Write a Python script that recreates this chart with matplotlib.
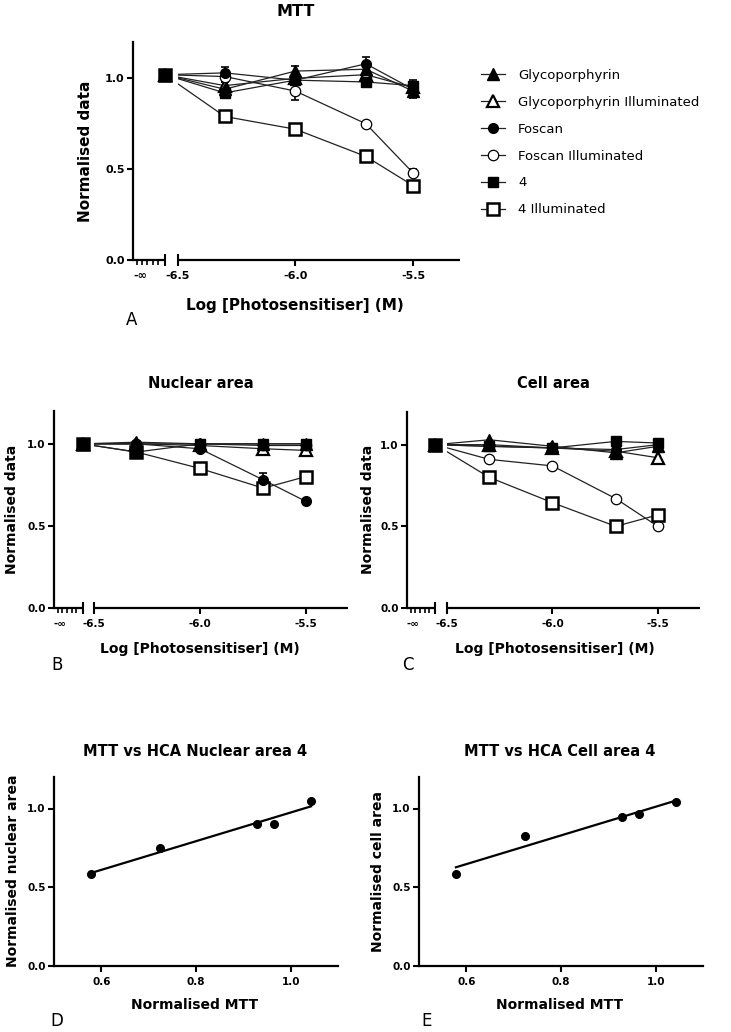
import numpy as np
import matplotlib
matplotlib.use("Agg")
import matplotlib.pyplot as plt
from matplotlib.lines import Line2D

plt.rcParams['font.family'] = ['DejaVu Sans']

W, H = 731, 1032

# ---------------- data ----------------
log_conc = [-6.555, -6.3, -6.0, -5.7, -5.5]   # first value = control (-inf) position on the broken axis
series_names = ["Glycoporphyrin", "Glycoporphyrin Illuminated", "Foscan",
                "Foscan Illuminated", "4", "4 Illuminated"]

mtt_glyco      = [1.02, 0.94, 1.04, 1.05, 0.93]
mtt_glyco_ill  = [1.02, 0.96, 1.00, 1.02, 0.95]
mtt_foscan     = [1.02, 1.03, 0.99, 1.08, 0.94]
mtt_foscan_ill = [1.02, 1.01, 0.93, 0.75, 0.48]
mtt_4          = [1.02, 0.92, 0.99, 0.98, 0.96]
mtt_4_ill      = [1.02, 0.79, 0.72, 0.57, 0.41]

mtt_err_glyco      = [0.02, 0.02, 0.03, 0.02, 0.04]
mtt_err_glyco_ill  = [0.02, 0.02, 0.02, 0.02, 0.03]
mtt_err_foscan     = [0.02, 0.03, 0.02, 0.04, 0.04]
mtt_err_foscan_ill = [0.01, 0.03, 0.05, 0.01, 0.02]
mtt_err_4          = [0.02, 0.02, 0.02, 0.01, 0.03]
mtt_err_4_ill      = [0.01, 0.01, 0.01, 0.01, 0.01]

nuc_glyco      = [1.00, 1.01, 1.00, 1.00, 1.00]
nuc_glyco_ill  = [1.00, 1.00, 0.99, 0.97, 0.96]
nuc_foscan     = [1.00, 1.00, 0.97, 0.78, 0.65]
nuc_foscan_ill = [1.00, 1.00, 1.00, 0.99, 0.99]
nuc_4          = [1.00, 0.95, 1.00, 1.00, 1.00]
nuc_4_ill      = [1.00, 0.95, 0.85, 0.73, 0.80]
nuc_err_foscan = [0.00, 0.00, 0.01, 0.04, 0.00]

cell_glyco      = [1.00, 1.03, 0.99, 0.95, 0.99]
cell_glyco_ill  = [1.00, 1.00, 0.98, 0.96, 0.92]
cell_foscan     = [1.00, 0.99, 0.98, 0.97, 1.00]
cell_foscan_ill = [1.00, 0.91, 0.87, 0.67, 0.50]
cell_4          = [1.00, 0.99, 0.98, 1.02, 1.01]
cell_4_ill      = [1.00, 0.80, 0.645, 0.50, 0.57]

corr_mtt     = [0.578, 0.723, 0.929, 0.964, 1.043]
corr_nuclear = [0.582, 0.747, 0.902, 0.902, 1.045]
corr_cell    = [0.582, 0.828, 0.945, 0.964, 1.042]

y_ticks = [0.0, 0.5, 1.0]
y_ticklabels = ["0.0", "0.5", "1.0"]
dose_ticks = [-6.5, -6.0, -5.5]
dose_ticklabels = ["-6.5", "-6.0", "-5.5"]
mtt_ticks = [0.6, 0.8, 1.0]
mtt_ticklabels = ["0.6", "0.8", "1.0"]

# ---------------- styles ----------------
styles = {
    "Glycoporphyrin":             dict(marker='^', ms=8,  mfc='black', mec='black', mew=1.0),
    "Glycoporphyrin Illuminated": dict(marker='^', ms=9,  mfc='white', mec='black', mew=1.6),
    "Foscan":                     dict(marker='o', ms=7,  mfc='black', mec='black', mew=1.0),
    "Foscan Illuminated":         dict(marker='o', ms=7.5, mfc='white', mec='black', mew=0.9),
    "4":                          dict(marker='s', ms=7,  mfc='black', mec='black', mew=1.0),
    "4 Illuminated":              dict(marker='s', ms=8,  mfc='white', mec='black', mew=1.8),
}
draw_order = ["Glycoporphyrin Illuminated", "Foscan Illuminated", "4 Illuminated",
              "Glycoporphyrin", "Foscan", "4"]

XL, XR = -6.69, -5.30
XCAP = -6.555


def fig_rect(l, t, r, b):
    return [l / W, 1 - b / H, (r - l) / W, (b - t) / H]


def ftext(x, y, s, **kw):
    fig.text(x / W, 1 - y / H, s, ha='center', va='center', **kw)


def style_y(ax, size):
    ax.set_ylim(0, 1.2)
    ax.set_yticks(y_ticks, y_ticklabels)
    for sp in ['top', 'right']:
        ax.spines[sp].set_visible(False)
    ax.spines['left'].set_linewidth(1.6)
    ax.tick_params(axis='y', direction='out', length=4, width=1.5, pad=2, labelsize=size)
    for lb in ax.get_yticklabels():
        lb.set_fontweight('bold')


def setup_dose_axis(ax, size):
    style_y(ax, size)
    ax.set_xlim(XL, XR)
    ax.spines['bottom'].set_visible(False)
    kw = dict(color='black', clip_on=False, solid_capstyle='butt')
    ax.plot([XL, XCAP], [0, 0], lw=1.6, **kw)
    ax.plot([-6.5, XR], [0, 0], lw=1.6, **kw)
    ax.plot([XCAP, -6.5], [0, 0], marker='|', ms=8, mew=1.5, ls='none', color='black', clip_on=False)
    ax.plot(dose_ticks[1:], [0, 0], marker=3, ms=4, mew=1.5, ls='none', color='black', clip_on=False)
    minor = np.linspace(XL + 0.018, XCAP - 0.03, 5)
    ax.plot(minor, np.zeros_like(minor), marker=3, ms=3.5, mew=1.2, ls='none', color='black', clip_on=False)
    ax.set_xticks([XL + 0.03] + dose_ticks, ['-\u221e'] + dose_ticklabels)
    ax.tick_params(axis='x', length=0, pad=8, labelsize=size)
    for lb in ax.get_xticklabels():
        lb.set_fontweight('bold')


def draw_series(ax, data, errs):
    clip = matplotlib.patches.Rectangle((-6.5, -1), 2, 5, transform=ax.transData)
    for name in draw_order:
        y = data[name]
        ln, = ax.plot(log_conc, y, color='#222222', lw=0.9, zorder=2)
        ln.set_clip_path(clip)
    for name in draw_order:
        y = data[name]
        st = styles[name]
        e = errs.get(name)
        if e is not None:
            ax.errorbar(log_conc, y, yerr=e, fmt='none', ecolor='black', elinewidth=1.2,
                        capsize=3, capthick=1.2, zorder=3, clip_on=False)
        ax.plot(log_conc, y, ls='none', zorder=4, clip_on=False, **st)


fig = plt.figure(figsize=(W / 100, H / 100), dpi=100)

# ---- Panel A: MTT ----
axA = fig.add_axes(fig_rect(133, 42, 460, 260))
setup_dose_axis(axA, 8)
mtt_data = dict(zip(series_names, [mtt_glyco, mtt_glyco_ill, mtt_foscan, mtt_foscan_ill, mtt_4, mtt_4_ill]))
mtt_errs = dict(zip(series_names, [mtt_err_glyco, mtt_err_glyco_ill, mtt_err_foscan,
                                   mtt_err_foscan_ill, mtt_err_4, mtt_err_4_ill]))
draw_series(axA, mtt_data, mtt_errs)
ftext(296, 11, "MTT", fontsize=11.5, fontweight='bold')
ftext(295, 305, "Log [Photosensitiser] (M)", fontsize=11, fontweight='bold')
ftext(86, 151, "Normalised data", fontsize=11, fontweight='bold', rotation=90)
ftext(132, 320, "A", fontsize=12)

handles = [Line2D([0], [0], color='#222222', lw=0.9, **styles[n]) for n in series_names]
fig.legend(handles, series_names, loc='upper left', bbox_to_anchor=(481 / W, 1 - 69 / H),
           frameon=False, fontsize=9.5, handlelength=1.8, handletextpad=1.0, labelspacing=1.05,
           borderpad=0, borderaxespad=0)

# ---- Panel B: Nuclear area ----
axB = fig.add_axes(fig_rect(54, 411, 348, 608))
setup_dose_axis(axB, 7.5)
nuc_data = dict(zip(series_names, [nuc_glyco, nuc_glyco_ill, nuc_foscan, nuc_foscan_ill, nuc_4, nuc_4_ill]))
draw_series(axB, nuc_data, {"Foscan": nuc_err_foscan})
ftext(201, 384, "Nuclear area", fontsize=10.5, fontweight='bold')
ftext(200, 649, "Log [Photosensitiser] (M)", fontsize=10, fontweight='bold')
ftext(12, 509, "Normalised data", fontsize=10, fontweight='bold', rotation=90)
ftext(57, 665, "B", fontsize=12)

# ---- Panel C: Cell area ----
axC = fig.add_axes(fig_rect(407, 412, 700, 608))
setup_dose_axis(axC, 7.5)
cell_data = dict(zip(series_names, [cell_glyco, cell_glyco_ill, cell_foscan, cell_foscan_ill, cell_4, cell_4_ill]))
draw_series(axC, cell_data, {})
ftext(553, 384, "Cell area", fontsize=10.5, fontweight='bold')
ftext(555, 649, "Log [Photosensitiser] (M)", fontsize=10, fontweight='bold')
ftext(368, 509, "Normalised data", fontsize=10, fontweight='bold', rotation=90)
ftext(408, 665, "C", fontsize=12)


# ---- Panels D, E: correlations ----
def corr_panel(rect, yvals):
    ax = fig.add_axes(fig_rect(*rect))
    style_y(ax, 7.5)
    ax.set_xlim(0.5, 1.1)
    ax.spines['bottom'].set_linewidth(1.6)
    ax.set_xticks(mtt_ticks, mtt_ticklabels)
    ax.tick_params(axis='x', direction='out', length=4, width=1.5, pad=4, labelsize=7.5)
    for lb in ax.get_xticklabels():
        lb.set_fontweight('bold')
    xs = np.array(corr_mtt)
    slope, icpt = np.polyfit(xs, np.array(yvals), 1)
    xf = np.array([xs.min(), xs.max()])
    ax.plot(xf, slope * xf + icpt, color='black', lw=1.6, zorder=2)
    ax.plot(xs, yvals, 'o', color='black', ms=5.5, zorder=3, clip_on=False)
    return ax


corr_panel((54, 777, 338, 966), corr_nuclear)
ftext(195, 751, "MTT vs HCA Nuclear area 4", fontsize=10.5, fontweight='bold')
ftext(195, 1005, "Normalised MTT", fontsize=10, fontweight='bold')
ftext(13, 871, "Normalised nuclear area", fontsize=10, fontweight='bold', rotation=90)
ftext(57, 1021, "D", fontsize=12)

corr_panel((419, 777, 703, 966), corr_cell)
ftext(560, 751, "MTT vs HCA Cell area 4", fontsize=10.5, fontweight='bold')
ftext(560, 1005, "Normalised MTT", fontsize=10, fontweight='bold')
ftext(378, 871, "Normalised cell area", fontsize=10, fontweight='bold', rotation=90)
ftext(427, 1021, "E", fontsize=12)

fig.savefig("out.png", dpi=100)
